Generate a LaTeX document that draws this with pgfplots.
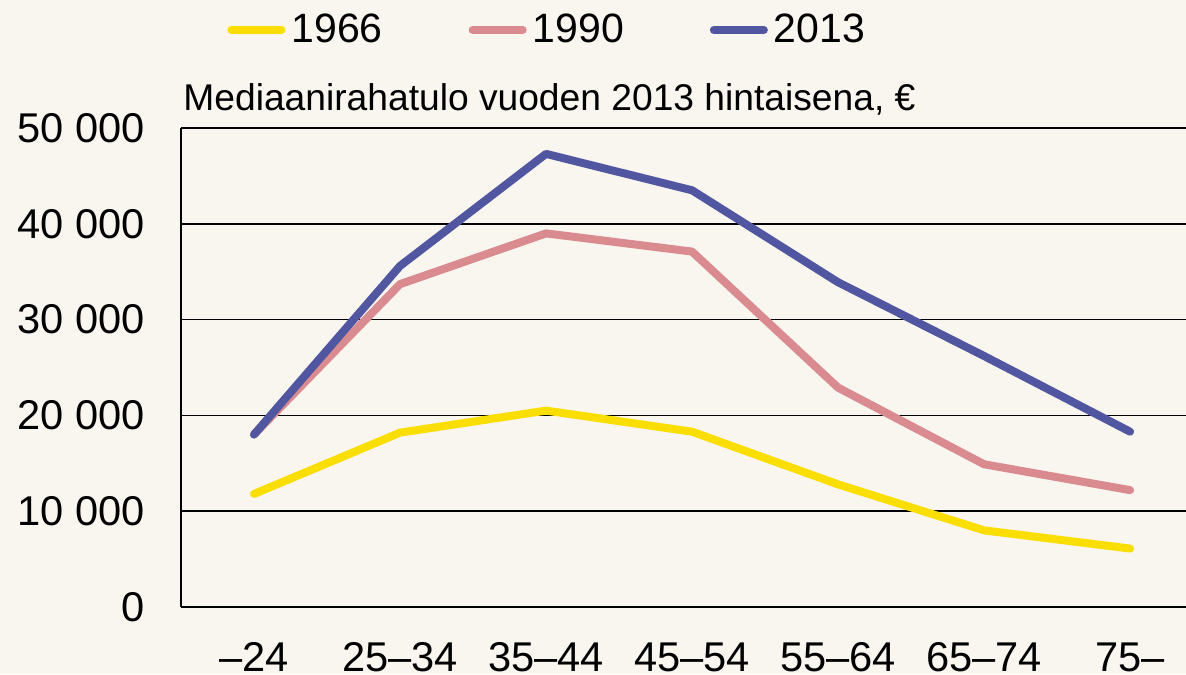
\documentclass[border=0pt]{standalone}
\usepackage{fontspec}
\setmainfont{Liberation Sans}
\usepackage{pgfplots}
\pgfplotsset{compat=1.18}
\definecolor{bg}{RGB}{249,245,239}
\definecolor{c66}{RGB}{250,222,0}
\definecolor{c90}{RGB}{217,139,144}
\definecolor{c13}{RGB}{81,86,160}
\begin{document}
\begin{tikzpicture}
\fill[bg] (-90.5pt,-33.5pt) rectangle (502.5pt,303.5pt);
\useasboundingbox (-90.5pt,-33.5pt) rectangle (502.5pt,303.5pt);
\begin{axis}[
  at={(0,0)}, anchor=south west,
  scale only axis, width=502.5pt, height=239.5pt,
  xmin=-0.5, xmax=6.383, ymin=0, ymax=50000,
  axis x line*=bottom, axis y line*=left,
  axis line style={line width=1pt, -},
  xtick={0,...,6},
  xticklabels={–24,25–34,35–44,45–54,55–64,65–74,75–},
  ytick={0,10000,20000,30000,40000,50000},
  yticklabels={0,10 000,20 000,30 000,40 000,50 000},
  scaled y ticks=false,
  major tick length=0pt,
  ymajorgrids, grid style={black, line width=0.75pt},
  tick label style={font=\fontsize{20.8pt}{24pt}\selectfont, inner sep=0pt},
  yticklabel style={anchor=east, xshift=-18pt},
  xticklabel style={anchor=north, yshift=-17.5pt},
  title={Mediaanirahatulo vuoden 2013 hintaisena, €},
  title style={at={(rel axis cs:0,1)}, anchor=base west, inner sep=0pt, xshift=1pt, yshift=3pt, font=\fontsize{18.6pt}{22pt}\selectfont},
  legend columns=3,
  legend style={draw=none, fill=none, inner sep=0pt, at={(rel axis cs:0.0458,1.2046)}, anchor=west,
    font=\fontsize{20.5pt}{24pt}\selectfont,
    nodes={inner sep=0pt},
    /tikz/every odd column/.append style={column sep=3pt},
    /tikz/every even column/.append style={column sep=43pt}},
  legend image code/.code={\draw[#1, line cap=round] (2pt,0pt) -- (27pt,0pt);},
  clip=false,
]
\addplot[c66, line width=4pt, line cap=round, line join=round] coordinates {(0,11800)(1,18200)(2,20500)(3,18300)(4,12800)(5,8000)(6,6100)};
\addlegendentry{1966}
\addplot[c90, line width=4pt, line cap=round, line join=round] coordinates {(0,18000)(1,33700)(2,39000)(3,37100)(4,22900)(5,14900)(6,12200)};
\addlegendentry{1990}
\addplot[c13, line width=4pt, line cap=round, line join=round] coordinates {(0,18000)(1,35600)(2,47300)(3,43500)(4,33900)(5,26200)(6,18300)};
\addlegendentry{2013}
\end{axis}
\end{tikzpicture}
\end{document}
